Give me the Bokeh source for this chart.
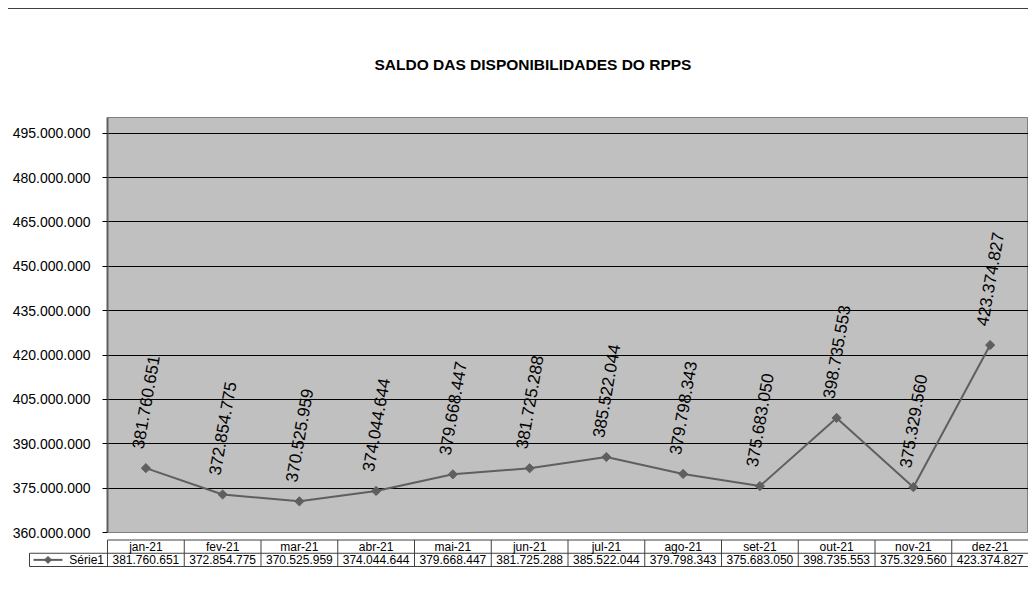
from bokeh.plotting import figure
from bokeh.layouts import column
from bokeh.models import Range1d, FactorRange, SingleIntervalTicker, CustomJSTickFormatter, ColumnDataSource
from bokeh.core.properties import value
from bokeh.embed import file_html
from bokeh.resources import INLINE

# ---- data ----
months = ["jan-21", "fev-21", "mar-21", "abr-21", "mai-21", "jun-21",
          "jul-21", "ago-21", "set-21", "out-21", "nov-21", "dez-21"]
saldo = [381760651, 372854775, 370525959, 374044644, 379668447, 381725288,
         385522044, 379798343, 375683050, 398735553, 375329560, 423374827]
series_name = "Série1"
title_text = "SALDO DAS DISPONIBILIDADES  DO RPPS"


def fmt(v):
    return f"{v:,}".replace(",", ".")


labels = [fmt(v) for v in saldo]

FONT = "Liberation Sans"
LINE_C = "#5f5f5f"

src = ColumnDataSource(dict(m=months, v=saldo, lab=labels))

p = figure(width=1020, height=531,
           x_range=FactorRange(*months, range_padding=0),
           y_range=Range1d(360_000_000, 500_300_000),
           output_backend="svg", toolbar_location=None,
           x_axis_location=None,
           min_border_left=99, min_border_right=0, min_border_top=108,
           min_border_bottom=8,
           background_fill_color="#C0C0C0", border_fill_color="white",
           outline_line_color="#808080",
           title=title_text)
p.styles = {"border-top": "1px solid #404040"}

p.title.align = "left"
p.title.offset = 267
p.title.text_font = FONT
p.title.text_font_size = "15.5px"
p.title.text_font_style = "bold"
p.title.text_color = "black"
p.title.standoff = 89

p.yaxis.ticker = SingleIntervalTicker(interval=15_000_000, num_minor_ticks=0)
p.yaxis.formatter = CustomJSTickFormatter(
    code="return tick.toFixed(0).replace(/\\B(?=(\\d{3})+(?!\\d))/g, '.');")
p.yaxis.major_label_text_font = FONT
p.yaxis.major_label_text_font_size = "14px"
p.yaxis.major_label_text_color = "black"
p.yaxis.axis_line_color = "#606060"
p.yaxis.axis_line_width = 2
p.yaxis.major_tick_out = 5
p.yaxis.major_tick_in = 0
p.yaxis.major_tick_line_color = "black"
p.yaxis.minor_tick_line_color = None
p.yaxis.major_label_standoff = 12

p.ygrid.grid_line_color = "black"
p.ygrid.grid_line_width = 1
p.xgrid.visible = False

p.line(x="m", y="v", source=src, line_color=LINE_C, line_width=2)
p.scatter(x="m", y="v", source=src, marker="square", size=6.5, angle=45,
          angle_units="deg", fill_color=LINE_C, line_color=LINE_C)
p.text(x="m", y="v", text="lab", source=src, angle=80, angle_units="deg",
       text_align="center", text_baseline="middle", y_offset=-66,
       text_font=value(FONT), text_font_size="17px", text_color="black")

# ---- data table below the chart (frame aligned with the chart's frame) ----
n = len(months)
col_px = 921 / n
row_px = 13.25
t_h = 34
t = figure(width=1020, height=t_h,
           x_range=Range1d(0, n),
           y_range=Range1d(-(t_h - 27) / row_px, 2 + 0.5 / row_px),
           output_backend="svg", toolbar_location=None,
           x_axis_location=None, y_axis_location=None,
           min_border_left=99, min_border_right=0,
           min_border_top=0, min_border_bottom=0,
           outline_line_color=None,
           background_fill_color="white", border_fill_color="white")
t.grid.visible = False

leg_left = -78 / col_px
TC = "#404040"
hx0 = [0, leg_left, leg_left]
hx1 = [n, n, n]
hy = [2, 1, 0]
t.segment(x0=hx0, y0=hy, x1=hx1, y1=hy, line_color=TC, line_width=1,
          level="overlay")
vx = list(range(n + 1)) + [leg_left]
vy0 = [0] * (n + 1) + [0]
vy1 = [2] * (n + 1) + [1]
t.segment(x0=vx, y0=vy0, x1=vx, y1=vy1, line_color=TC, line_width=1,
          level="overlay")

centers = [i + 0.5 for i in range(n)]
t.text(x=centers, y=[1.5] * n, text=months, text_align="center",
       text_baseline="middle", text_font=value(FONT), text_font_size="12px",
       text_color="black", level="overlay")
t.text(x=centers, y=[0.5] * n, text=labels, text_align="center",
       text_baseline="middle", text_font=value(FONT), text_font_size="12px",
       text_color="black", level="overlay")

# legend key (line + diamond) inside the legend cell
t.line(x=[-74 / col_px, -45 / col_px], y=[0.5, 0.5], line_color=LINE_C,
       line_width=2, level="overlay")
cx, d = -59.5 / col_px, 3.5
t.patch(x=[cx - d / col_px, cx, cx + d / col_px, cx],
        y=[0.5, 0.5 + d / row_px, 0.5, 0.5 - d / row_px],
        fill_color=LINE_C, line_color=LINE_C, level="overlay")
t.text(x=[-3.5 / col_px], y=[0.5], text=[series_name], text_align="right",
       text_baseline="middle", text_font=value(FONT), text_font_size="12px",
       text_color="black", level="overlay")

layout = column(p, t, spacing=0, margin=(8, 0, 0, 8))
open("out.html", "w").write(file_html(layout, INLINE))
